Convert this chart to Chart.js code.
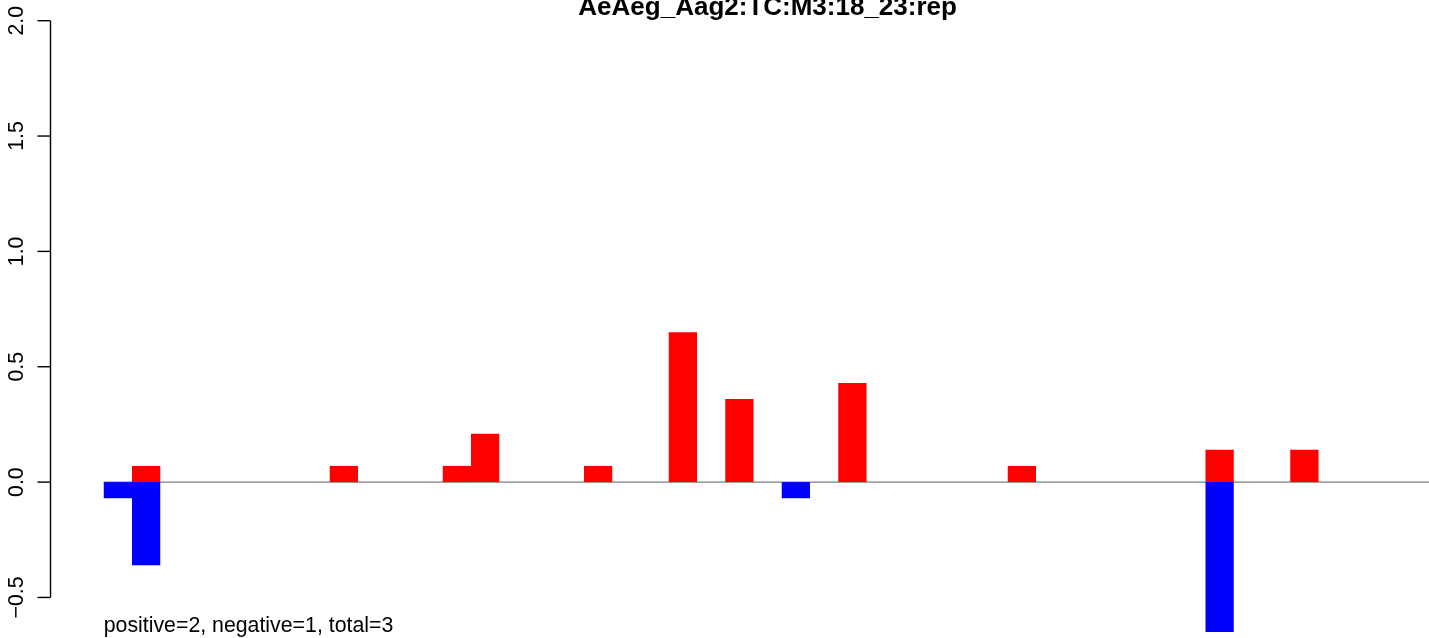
<!DOCTYPE html>
<html lang="pt-BR">
<head>
<meta charset="UTF-8">
<title>AeAeg_Aag2:TC:M3:18_23:rep</title>
<script src="https://cdn.jsdelivr.net/npm/chart.js@4.4.1/dist/chart.umd.min.js"></script>
<style>
    html, body { margin: 0; padding: 0; background: #ffffff; overflow: hidden; }
    #caixa { width: 1429px; height: 638px; position: relative; }
</style>
</head>
<body>
<div id="caixa"><canvas id="graficoBarras"></canvas></div>
<script>
// Dados (uma posição por barra)
const posicoes = [
    0, 1, 2, 3, 4, 5, 6, 7, 8, 9,
    10, 11, 12, 13, 14, 15, 16, 17, 18, 19,
    20, 21, 22, 23, 24, 25, 26, 27, 28, 29,
    30, 31, 32, 33, 34, 35, 36, 37, 38, 39,
    40, 41, 42, 43, 44, 45, 46
];

// Barras vermelhas (fita positiva)
const valoresPositivos = [
    0, 0.07, 0, 0, 0, 0, 0, 0, 0.07, 0,
    0, 0, 0.07, 0.21, 0, 0, 0, 0.07, 0, 0,
    0.65, 0, 0.36, 0, 0, 0, 0.43, 0, 0, 0,
    0, 0, 0.07, 0, 0, 0, 0, 0, 0, 0.14,
    0, 0, 0.14, 0, 0, 0, 0
];

// Barras azuis (fita negativa)
const valoresNegativos = [
    -0.07, -0.36, 0, 0, 0, 0, 0, 0, 0, 0,
    0, 0, 0, 0, 0, 0, 0, 0, 0, 0,
    0, 0, 0, 0, -0.07, 0, 0, 0, 0, 0,
    0, 0, 0, 0, 0, 0, 0, 0, 0, -0.65,
    0, 0, 0, 0, 0, 0, 0
];

// Marcas do eixo Y
const ticksY = [-0.5, 0, 0.5, 1, 1.5, 2];
const rotulosY = ["\u22120.5", "0.0", "0.5", "1.0", "1.5", "2.0"];

const titulo = "AeAeg_Aag2:TC:M3:18_23:rep";
const legenda = "positive=2, negative=1, total=3";

const fonte = '"Liberation Sans", Arial, Helvetica, sans-serif';

// Desenha o eixo Y, a linha do zero e os textos no estilo do R
const estiloR = {
    id: 'estiloR',
    beforeDatasetsDraw(chart) {
        const ctx = chart.ctx;
        const x = chart.scales.x;
        const y = chart.scales.y;
        const y0 = y.getPixelForValue(0);
        ctx.save();
        ctx.strokeStyle = '#7f7f7f';
        ctx.lineWidth = 1.3;
        ctx.beginPath();
        ctx.moveTo(x.getPixelForValue(-0.5), y0);
        ctx.lineTo(x.getPixelForValue(46.5), y0);
        ctx.stroke();
        ctx.restore();
    },
    afterDraw(chart) {
        const ctx = chart.ctx;
        const x = chart.scales.x;
        const y = chart.scales.y;
        const eixoX = chart.chartArea.left - 0.5;

        ctx.save();
        ctx.strokeStyle = '#000000';
        ctx.lineWidth = 1.4;

        // linha do eixo, só entre a primeira e a última marca
        ctx.beginPath();
        ctx.moveTo(eixoX, y.getPixelForValue(ticksY[0]));
        ctx.lineTo(eixoX, y.getPixelForValue(ticksY[ticksY.length - 1]));
        ctx.stroke();

        // tracinhos e rótulos girados
        ctx.fillStyle = '#000000';
        ctx.font = '21.3px ' + fonte;
        ctx.textAlign = 'center';
        ctx.textBaseline = 'alphabetic';
        ticksY.forEach(function(v, i) {
            const py = y.getPixelForValue(v);
            ctx.beginPath();
            ctx.moveTo(eixoX - 13, py);
            ctx.lineTo(eixoX, py);
            ctx.stroke();

            ctx.save();
            ctx.translate(23, py);
            ctx.rotate(-Math.PI / 2);
            ctx.fillText(rotulosY[i], 0, 0);
            ctx.restore();
        });

        // título (centrado na região do gráfico do R)
        ctx.font = 'bold 26px ' + fonte;
        ctx.textAlign = 'center';
        ctx.fillText(titulo, x.getPixelForValue(23), 15);

        // texto do rodapé
        ctx.font = '21.3px ' + fonte;
        ctx.textAlign = 'left';
        ctx.fillText(legenda, x.getPixelForValue(-0.5), 632);
        ctx.restore();
    }
};

document.addEventListener("DOMContentLoaded", function() {
    const ctx = document.getElementById('graficoBarras').getContext('2d');

    const graficoBarras = new Chart(ctx, {
        type: 'bar',
        data: {
            labels: posicoes,
            datasets: [{
                label: 'positive',
                data: valoresPositivos,
                backgroundColor: '#ff0000',
                borderWidth: 0,
                inflateAmount: 0,
                grouped: false,
                barPercentage: 1,
                categoryPercentage: 1
            }, {
                label: 'negative',
                data: valoresNegativos,
                backgroundColor: '#0000ff',
                borderWidth: 0,
                inflateAmount: 0,
                grouped: false,
                barPercentage: 1,
                categoryPercentage: 1
            }]
        },
        options: {
            responsive: true,
            maintainAspectRatio: false,
            animation: false,
            layout: { padding: { left: 51, right: 0, top: 0, bottom: 0 } },
            plugins: {
                legend: { display: false },
                tooltip: { enabled: false },
                title: { display: false }
            },
            scales: {
                x: {
                    type: 'linear',
                    display: false,
                    offset: false,
                    bounds: 'data',
                    min: -2.3673,
                    max: 46.4115
                },
                y: {
                    display: false,
                    bounds: 'data',
                    min: -0.6758,
                    max: 2.0897
                }
            }
        },
        plugins: [estiloR]
    });
});
</script>
</body>
</html>
